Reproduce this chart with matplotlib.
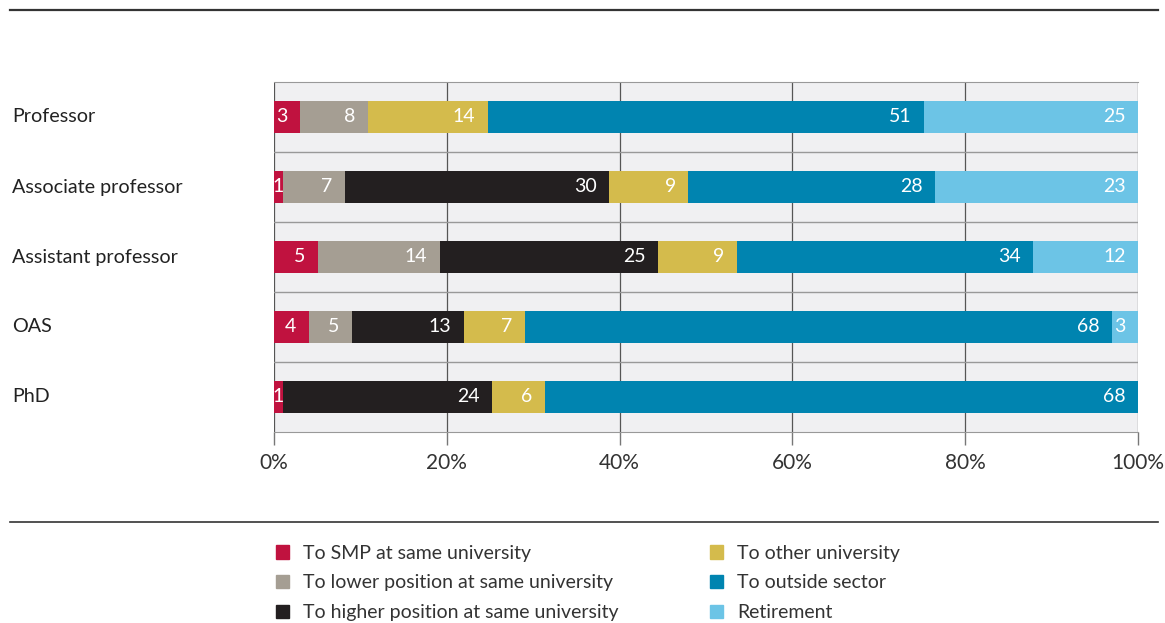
import matplotlib.pyplot as plt
import numpy as np
from matplotlib.lines import Line2D
from matplotlib.patches import Patch
from matplotlib import transforms

plt.rcParams['font.family'] = ['Lato', 'DejaVu Sans']

# data
categories = ['Professor', 'Associate professor', 'Assistant professor', 'OAS', 'PhD']
series_names = ['To SMP at same university', 'To lower position at same university',
                'To higher position at same university', 'To other university',
                'To outside sector', 'Retirement']
smp = [3, 1, 5, 4, 1]
lower = [8, 7, 14, 5, 0]
higher = [0, 30, 25, 13, 24]
other_uni = [14, 9, 9, 7, 6]
outside = [51, 28, 34, 68, 68]
retirement = [25, 23, 12, 3, 0]
colors = ['#c0123f', '#a59e93', '#231f20', '#d4bb4c', '#0084b0', '#6cc4e6']

series = np.array([smp, lower, higher, other_uni, outside, retirement], dtype=float)
shares = series / series.sum(axis=0)  # rows are rounded, so scale each bar to 100%

W, H = 1165, 623
fig = plt.figure(figsize=(W / 100, H / 100), dpi=100)
ax = fig.add_axes([274 / W, 1 - 432 / H, 864 / W, 350 / H])
ax.set_facecolor('#f0f0f2')

y = np.arange(len(categories))
left = np.zeros(len(categories))
for k in range(len(series_names)):
    ax.barh(y, shares[k], left=left, height=0.46, color=colors[k], zorder=3)
    for i in range(len(categories)):
        v = series[k, i]
        if v <= 0:
            continue
        end = left[i] + shares[k, i]
        if v < 2:
            ax.text(left[i] + shares[k, i] / 2, y[i], f'{int(v)}', ha='center', va='center',
                    color='white', fontsize=14, zorder=4)
        else:
            ax.annotate(f'{int(v)}', (end, y[i]), xytext=(-9, 0), textcoords='offset points',
                        ha='right', va='center', color='white', fontsize=14, zorder=4)
    left += shares[k]

ax.set_xlim(0, 1)
ax.set_ylim(len(categories) - 0.5, -0.5)
ax.set_xticks(np.linspace(0, 1, 6))
ax.set_xticklabels([f'{int(t)}%' for t in np.linspace(0, 100, 6)], fontsize=15, color='#333333')
ax.set_yticks([])
ax.set_yticks(np.arange(len(categories) - 1) + 0.5, minor=True)
ax.tick_params(axis='y', which='both', length=0)
ax.tick_params(axis='x', length=9, width=1, color='#777777', pad=6)
ax.grid(axis='x', color='#555555', lw=0.9, zorder=1)
ax.grid(axis='y', which='minor', color='#999999', lw=1, zorder=1)
for s in ['left', 'right']:
    ax.spines[s].set_visible(False)
for s in ['top', 'bottom']:
    ax.spines[s].set_color('#999999')

# category labels, left aligned at the figure edge
trans = transforms.blended_transform_factory(fig.transFigure, ax.transData)
for i, c in enumerate(categories):
    ax.text(12 / W, y[i], c, transform=trans, ha='left', va='center', fontsize=14.2, color='#222222')

# rules
fig.add_artist(Line2D([10 / W, 1158 / W], [1 - 10 / H] * 2, color='#333333', lw=1.6))
fig.add_artist(Line2D([10 / W, 1158 / W], [1 - 522 / H] * 2, color='#333333', lw=1.2))

handles = [Patch(color=c) for c in colors]
fig.legend(handles, series_names, loc='upper left', bbox_to_anchor=(258 / W, 1 - 527 / H),
           ncol=2, frameon=False, fontsize=14, handlelength=0.7, handleheight=0.7,
           handletextpad=0.7, labelspacing=0.66, columnspacing=4.7, labelcolor='#333333')

fig.savefig('out.png', dpi=100)
